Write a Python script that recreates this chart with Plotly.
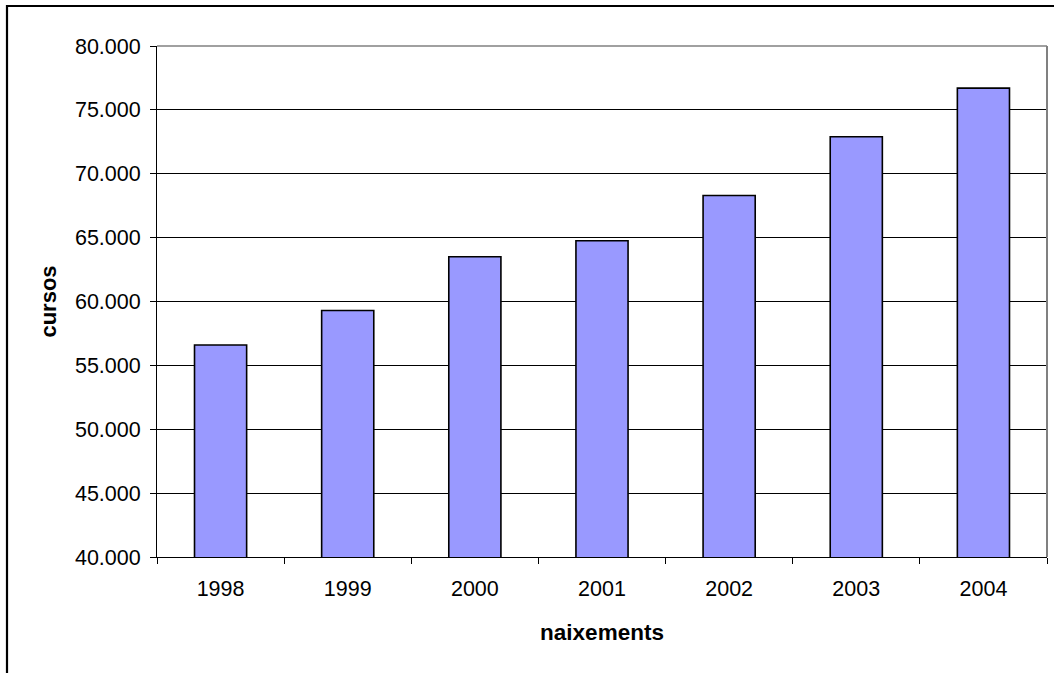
import plotly.graph_objects as go

years = ["1998", "1999", "2000", "2001", "2002", "2003", "2004"]
cursos = [56600, 59300, 63500, 64750, 68300, 72900, 76700]
y_ticks = [40000, 45000, 50000, 55000, 60000, 65000, 70000, 75000, 80000]
x_title = "naixements"
y_title = "cursos"

W, H = 1054, 673
L, R, T, B = 157, 1047, 46, 557

fig = go.Figure()
fig.add_trace(go.Bar(
    x=years, y=cursos,
    marker=dict(color="#9999FF", line=dict(color="#000000", width=1.6)),
    width=0.41,
    hoverinfo="x+y",
))

def px(x):
    return (x - L) / (R - L)

def py(y):
    return (B - y) / (B - T)

fig.update_layout(
    width=W, height=H,
    margin=dict(l=L, r=W - R, t=T, b=H - B, pad=0),
    paper_bgcolor="white", plot_bgcolor="white",
    separators=",.",
    showlegend=False,
    font=dict(family="Liberation Sans, Arial, sans-serif", size=21.5, color="#000000"),
    xaxis=dict(
        type="category",
        showline=True, linecolor="#000000", linewidth=1,
        ticks="outside", ticklen=6, tickcolor="#000000", tickwidth=1,
        tickson="boundaries",
        showgrid=False,
        ticklabelstandoff=12,
        title=dict(text=x_title, font=dict(size=22.5, weight="bold"), standoff=24),
        range=[-0.5, 6.5],
    ),
    yaxis=dict(
        range=[40000, 80000],
        tickvals=y_ticks,
        tickformat=",d",
        showline=True, linecolor="#000000", linewidth=1,
        ticks="outside", ticklen=6, tickcolor="#000000", tickwidth=1,
        showgrid=True, gridcolor="#000000", gridwidth=1,
        ticklabelstandoff=5,
        zeroline=False,
        title=dict(text=y_title, font=dict(size=22, weight="bold"), standoff=12),
    ),
    shapes=[
        dict(type="line", xref="paper", yref="paper", x0=0, x1=1, y0=1, y1=1,
             line=dict(color="#808080", width=1.5)),
        dict(type="line", xref="paper", yref="paper", x0=1, x1=1, y0=0, y1=1,
             line=dict(color="#808080", width=2)),
        dict(type="rect", xref="paper", yref="paper",
             x0=px(7), x1=px(W + 10), y0=py(H + 10), y1=py(6),
             line=dict(color="#000000", width=2.2), layer="above"),
    ],
)

fig.write_html(
    "out.html",
    config={"displayModeBar": False},
    post_script="document.body.style.margin='0';document.body.style.overflow='hidden';",
)
